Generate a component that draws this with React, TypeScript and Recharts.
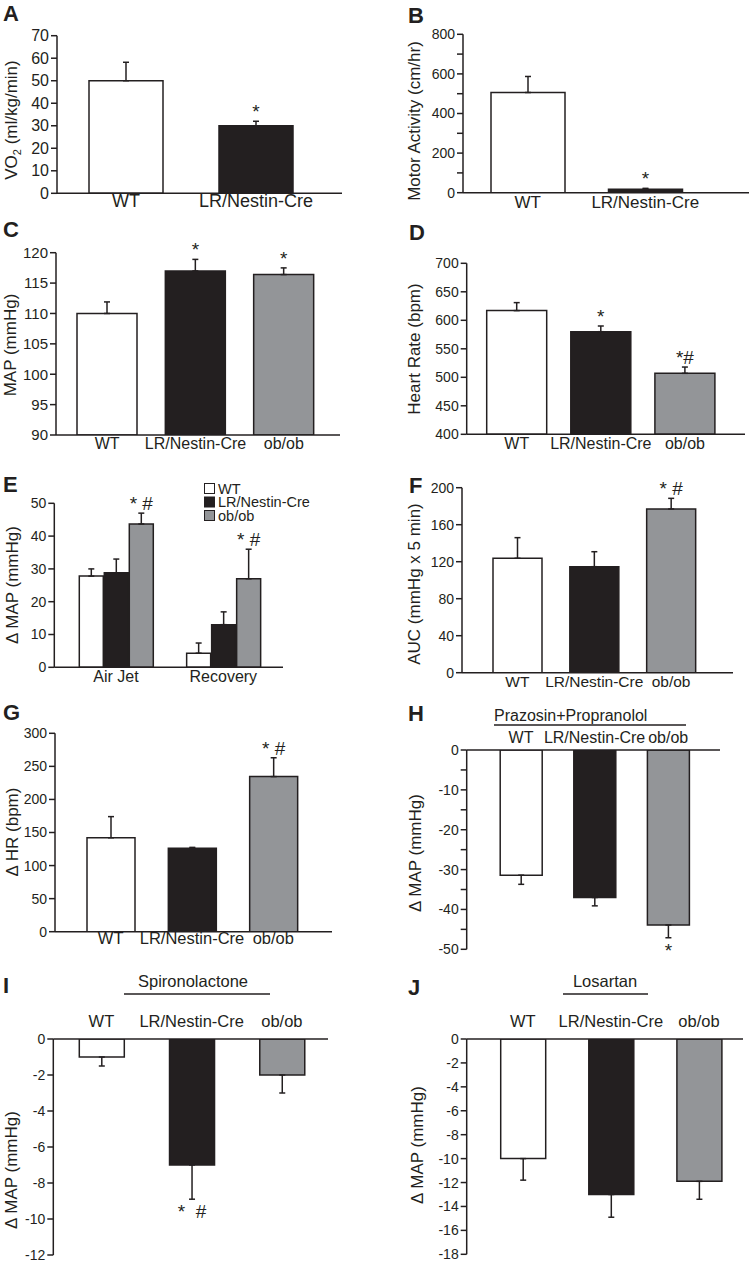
import React from "react";
import { Bar, BarChart, Cell, ErrorBar, LabelList, XAxis, YAxis } from "recharts";

const INK = "#231f20";
const GREY = "#939598";
const WHITE = "#ffffff";
const FONT = '"Liberation Sans", Arial, Helvetica, sans-serif';

const genotypes2 = ["WT", "LR/Nestin-Cre"];
const genotypes3 = ["WT", "LR/Nestin-Cre", "ob/ob"];
const phases = ["Air Jet", "Recovery"];
const genotypeFills = [WHITE, INK, GREY];

// A - oxygen consumption
const vo2Mean = [50, 30];
const vo2Sem = [8.2, 2];
const vo2Marks = ["", "*"];
const vo2Ticks = [0, 10, 20, 30, 40, 50, 60, 70];

// B - motor activity
const motorMean = [506, 17];
const motorSem = [81, 5];
const motorMarks = ["", "*"];
const motorTicks = [0, 100, 200, 300, 400, 500, 600, 700, 800];

// C - MAP
const mapMean = [110, 117, 116.4];
const mapSem = [1.9, 1.9, 1.1];
const mapMarks = ["", "*", "*"];
const mapTicks = [90, 95, 100, 105, 110, 115, 120];

// D - heart rate
const hrMean = [617, 580, 507];
const hrSem = [14, 10, 11];
const hrMarks = ["", "*", "*#"];
const hrTicks = [400, 450, 500, 550, 600, 650, 700];

// E - air jet stress
const jetWtMean = [27.8, 4.3];
const jetWtSem = [2.2, 3.1];
const jetLrMean = [28.8, 13];
const jetLrSem = [4.2, 3.9];
const jetObMean = [43.7, 27];
const jetObSem = [3.3, 9];
const jetObMarks = ["* #", "* #"];
const jetTicks = [0, 10, 20, 30, 40, 50];

// F - AUC
const aucMean = [123.7, 114.6, 177];
const aucSem = [22.3, 16.2, 11.5];
const aucMarks = ["", "", "* #"];
const aucTicks = [0, 40, 80, 120, 160, 200];

// G - delta HR
const dhrMean = [142, 126, 234.5];
const dhrSem = [32, 1.5, 28.5];
const dhrMarks = ["", "", "* #"];
const dhrTicks = [0, 50, 100, 150, 200, 250, 300];

// H - prazosin + propranolol
const prazMean = [-31.4, -37, -43.9];
const prazSem = [2.3, 2.1, 3.2];
const prazMarks = ["", "", "*"];
const prazTicks = [-50, -45, -40, -35, -30, -25, -20, -15, -10, -5, 0];

// I - spironolactone
const spiroMean = [-1, -7, -2];
const spiroSem = [0.5, 1.9, 1];
const spiroMarks = ["", "*  #", ""];
const spiroTicks = [-12, -10, -8, -6, -4, -2, 0];

// J - losartan
const losMean = [-10, -13, -11.9];
const losSem = [1.8, 1.9, 1.5];
const losMarks = ["", "", ""];
const losTicks = [-18, -16, -14, -12, -10, -8, -6, -4, -2, 0];

type Series = {
  key: string;
  fill: string | string[];
  mean: number[];
  sem: number[];
  marks: string[];
};

type PanelProps = {
  box: [number, number, number, number];
  plot: [number, number, number, number];
  top?: boolean;
  pad: [number, number];
  domain: [number, number];
  ticks: number[];
  labelStep?: number;
  categories: string[];
  series: Series[];
  barSize: number;
  barGap?: number;
  tickFont: number;
  catFont: number;
  catDy: number;
};

const Y_AXIS_W = 40;
const X_AXIS_H = 25;
const MARK_FONT = 19;

function Panel(p: PanelProps) {
  const [bx, by, bw, bh] = p.box;
  const [x0, x1, yTop, yBot] = p.plot;
  const margin = {
    left: x0 - bx - Y_AXIS_W,
    right: bx + bw - x1,
    top: p.top ? yTop - by - X_AXIS_H : yTop - by,
    bottom: p.top ? by + bh - yBot : by + bh - yBot - X_AXIS_H,
  };
  const base = p.domain[0] >= 0 ? p.domain[0] : 0;

  const data = p.categories.map((cat, i) => {
    const row: Record<string, any> = { cat };
    p.series.forEach((s) => {
      row[s.key] = s.mean[i];
      row[s.key + "Err"] = s.mean[i] < 0 ? [s.sem[i], 0] : [0, s.sem[i]];
    });
    return row;
  });

  const markContent = (s: Series) => (props: any) => {
    let i = props.index;
    if (i === undefined || s.mean[i] === undefined) i = s.mean.indexOf(Number(props.value));
    const mark = s.marks[i];
    if (!mark) return null;
    const vb = props.viewBox ?? props;
    const x = Number(vb.x);
    const y = Number(vb.y);
    const w = Number(vb.width);
    const h = Number(vb.height);
    const mean = s.mean[i];
    const k = Math.abs(h) / Math.abs(mean - base);
    const errPx = s.sem[i] * k;
    const cx = x + w / 2;
    const ty =
      mean < 0 ? Math.max(y, y + h) + errPx + 19 : Math.min(y, y + h) - errPx - 3;
    return (
      <text
        x={cx}
        y={ty}
        textAnchor="middle"
        fontSize={MARK_FONT}
        fill={INK}
        style={{ whiteSpace: "pre" }}
      >
        {mark}
      </text>
    );
  };

  const catTick = (t: any) => (
    <text
      x={t.x}
      y={t.y + p.catDy}
      textAnchor="middle"
      fontSize={p.catFont}
      fill={INK}
    >
      {t.payload.value}
    </text>
  );

  return (
    <div style={{ position: "absolute", left: bx, top: by }}>
      <BarChart
        width={bw}
        height={bh}
        data={data}
        margin={margin}
        barSize={p.barSize}
        barGap={p.barGap ?? 4}
      >
        <XAxis
          dataKey="cat"
          orientation={p.top ? "top" : "bottom"}
          height={X_AXIS_H}
          padding={{ left: p.pad[0], right: p.pad[1] }}
          axisLine={{ stroke: INK, strokeWidth: 1.5 }}
          tickLine={false}
          tickSize={0}
          tickMargin={0}
          interval={0}
          tick={catTick}
        />
        <YAxis
          width={Y_AXIS_W}
          domain={p.domain}
          allowDataOverflow
          ticks={p.ticks}
          interval={0}
          tickSize={6}
          tickMargin={2}
          axisLine={{ stroke: INK, strokeWidth: 1.5 }}
          tickLine={{ stroke: INK, strokeWidth: 1.5 }}
          tick={{ fontSize: p.tickFont, fill: INK }}
          tickFormatter={(v: number) =>
            p.labelStep && v % p.labelStep !== 0 ? "" : String(v)
          }
        />
        {p.series.map((s) => (
          <Bar
            key={s.key}
            dataKey={s.key}
            fill={typeof s.fill === "string" ? s.fill : WHITE}
            stroke={INK}
            strokeWidth={1.5}
            isAnimationActive={false}
          >
            {Array.isArray(s.fill) &&
              s.fill.map((f, i) => <Cell key={i} fill={f} />)}
            <ErrorBar
              dataKey={s.key + "Err"}
              direction="y"
              width={3}
              stroke={INK}
              strokeWidth={1.5}
            />
            <LabelList dataKey={s.key} content={markContent(s)} />
          </Bar>
        ))}
      </BarChart>
    </div>
  );
}

const letters: [string, number, number][] = [
  ["A", 3, 21],
  ["B", 408, 23],
  ["C", 3, 237],
  ["D", 409, 240],
  ["E", 3, 492],
  ["F", 409, 493],
  ["G", 3, 720],
  ["H", 408, 721],
  ["I", 3, 993],
  ["J", 408, 995],
];

function YTitle({ cx, cy, children }: { cx: number; cy: number; children: React.ReactNode }) {
  return (
    <text
      transform={`translate(${cx + 6}, ${cy}) rotate(-90)`}
      textAnchor="middle"
      fontSize={17}
      fill={INK}
    >
      {children}
    </text>
  );
}

const legendItems = [
  { label: "WT", fill: WHITE },
  { label: "LR/Nestin-Cre", fill: INK },
  { label: "ob/ob", fill: GREY },
];

export default function App() {
  const single = (key: string, mean: number[], sem: number[], marks: string[]): Series[] => [
    { key, fill: genotypeFills, mean, sem, marks },
  ];

  return (
    <div
      style={{
        position: "absolute",
        left: 0,
        top: 0,
        width: 752,
        height: 1265,
        background: "#fff",
        fontFamily: FONT,
        overflow: "hidden",
      }}
    >
      <Panel
        box={[0, 0, 376, 225]}
        plot={[57, 342, 35.7, 193.3]}
        pad={[4, 21]}
        domain={[0, 70]}
        ticks={vo2Ticks}
        categories={genotypes2}
        series={single("vo2", vo2Mean, vo2Sem, vo2Marks)}
        barSize={74}
        tickFont={16}
        catFont={18}
        catDy={14}
      />
      <Panel
        box={[376, 0, 376, 225]}
        plot={[463, 749, 34.3, 192.7]}
        pad={[6, 45]}
        domain={[0, 800]}
        ticks={motorTicks}
        labelStep={200}
        categories={genotypes2}
        series={single("motor", motorMean, motorSem, motorMarks)}
        barSize={74}
        tickFont={14}
        catFont={17}
        catDy={15}
      />
      <Panel
        box={[0, 215, 376, 255]}
        plot={[56, 340, 252.7, 435]}
        pad={[7, 12]}
        domain={[90, 120]}
        ticks={mapTicks}
        categories={genotypes3}
        series={single("map", mapMean, mapSem, mapMarks)}
        barSize={60}
        tickFont={15}
        catFont={16}
        catDy={14}
      />
      <Panel
        box={[376, 215, 376, 255]}
        plot={[466.7, 745, 263.3, 434.3]}
        pad={[8, 18]}
        domain={[400, 700]}
        ticks={hrTicks}
        categories={genotypes3}
        series={single("hr", hrMean, hrSem, hrMarks)}
        barSize={60}
        tickFont={14}
        catFont={16}
        catDy={15}
      />
      <Panel
        box={[0, 470, 376, 230]}
        plot={[54.3, 283, 503.3, 667.3]}
        pad={[8, 6]}
        domain={[0, 50]}
        ticks={jetTicks}
        categories={phases}
        series={[
          { key: "wt", fill: WHITE, mean: jetWtMean, sem: jetWtSem, marks: [] },
          { key: "lr", fill: INK, mean: jetLrMean, sem: jetLrSem, marks: [] },
          { key: "ob", fill: GREY, mean: jetObMean, sem: jetObSem, marks: jetObMarks },
        ]}
        barSize={24}
        barGap={1}
        tickFont={14}
        catFont={16}
        catDy={15}
      />
      <Panel
        box={[376, 470, 376, 230]}
        plot={[462, 733, 487.7, 672.7]}
        pad={[17, 23.5]}
        domain={[0, 200]}
        ticks={aucTicks}
        categories={genotypes3}
        series={single("auc", aucMean, aucSem, aucMarks)}
        barSize={49}
        tickFont={14}
        catFont={15.5}
        catDy={14}
      />
      <Panel
        box={[0, 700, 376, 260]}
        plot={[55, 332, 733.3, 931.7]}
        pad={[15, 18]}
        domain={[0, 300]}
        ticks={dhrTicks}
        categories={genotypes3}
        series={single("dhr", dhrMean, dhrSem, dhrMarks)}
        barSize={48}
        tickFont={14}
        catFont={16.5}
        catDy={12}
      />
      <Panel
        box={[376, 700, 376, 260]}
        plot={[466.7, 720, 750, 949.3]}
        top
        pad={[17.5, 15]}
        domain={[-50, 0]}
        ticks={prazTicks}
        labelStep={10}
        categories={genotypes3}
        series={single("praz", prazMean, prazSem, prazMarks)}
        barSize={42}
        tickFont={14}
        catFont={16}
        catDy={-7}
      />
      <Panel
        box={[0, 960, 376, 305]}
        plot={[53.3, 328, 1039, 1255]}
        top
        pad={[3, 1]}
        domain={[-12, 0]}
        ticks={spiroTicks}
        categories={genotypes3}
        series={single("spiro", spiroMean, spiroSem, spiroMarks)}
        barSize={45}
        tickFont={14}
        catFont={16.5}
        catDy={-12}
      />
      <Panel
        box={[376, 960, 376, 305]}
        plot={[466.7, 743, 1039, 1254.3]}
        top
        pad={[12, 0]}
        domain={[-18, 0]}
        ticks={losTicks}
        categories={genotypes3}
        series={single("los", losMean, losSem, losMarks)}
        barSize={45}
        tickFont={14}
        catFont={16.5}
        catDy={-12}
      />

      <svg
        width={752}
        height={1265}
        style={{ position: "absolute", left: 0, top: 0, pointerEvents: "none" }}
        fontFamily={FONT}
      >
        {letters.map(([l, x, y]) => (
          <text key={l} x={x} y={y} fontSize={22} fontWeight="bold" fill={INK}>
            {l}
          </text>
        ))}

        <YTitle cx={11} cy={120}>
          VO<tspan dy={4} fontSize={11}>2</tspan>
          <tspan dy={-4}> (ml/kg/min)</tspan>
        </YTitle>
        <YTitle cx={414} cy={121}>Motor Activity (cm/hr)</YTitle>
        <YTitle cx={10} cy={345}>MAP (mmHg)</YTitle>
        <YTitle cx={414} cy={349}>Heart Rate (bpm)</YTitle>
        <YTitle cx={11.5} cy={585}>Δ MAP (mmHg)</YTitle>
        <YTitle cx={414} cy={584}>AUC (mmHg x 5 min)</YTitle>
        <YTitle cx={12} cy={832}>Δ HR (bpm)</YTitle>
        <YTitle cx={415} cy={853}>Δ MAP (mmHg)</YTitle>
        <YTitle cx={11} cy={1170}>Δ MAP (mmHg)</YTitle>
        <YTitle cx={417} cy={1145}>Δ MAP (mmHg)</YTitle>

        {legendItems.map((it, i) => (
          <g key={it.label}>
            <rect
              x={204.5}
              y={483.5 + i * 13.5}
              width={10}
              height={10}
              fill={it.fill}
              stroke={INK}
              strokeWidth={1}
            />
            <text x={218} y={493.5 + i * 13.5} fontSize={14.5} fill={INK}>
              {it.label}
            </text>
          </g>
        ))}

        <text x={494} y={721} fontSize={16} fill={INK}>
          Prazosin+Propranolol
        </text>
        <line x1={494} x2={686} y1={725} y2={725} stroke={INK} strokeWidth={1.5} />

        <text x={193} y={987} fontSize={16.5} textAnchor="middle" fill={INK}>
          Spironolactone
        </text>
        <line x1={124} x2={270} y1={994} y2={994} stroke={INK} strokeWidth={1.5} />

        <text x={605} y={987} fontSize={16.5} textAnchor="middle" fill={INK}>
          Losartan
        </text>
        <line x1={563} x2={648} y1={994} y2={994} stroke={INK} strokeWidth={1.5} />
      </svg>
    </div>
  );
}
